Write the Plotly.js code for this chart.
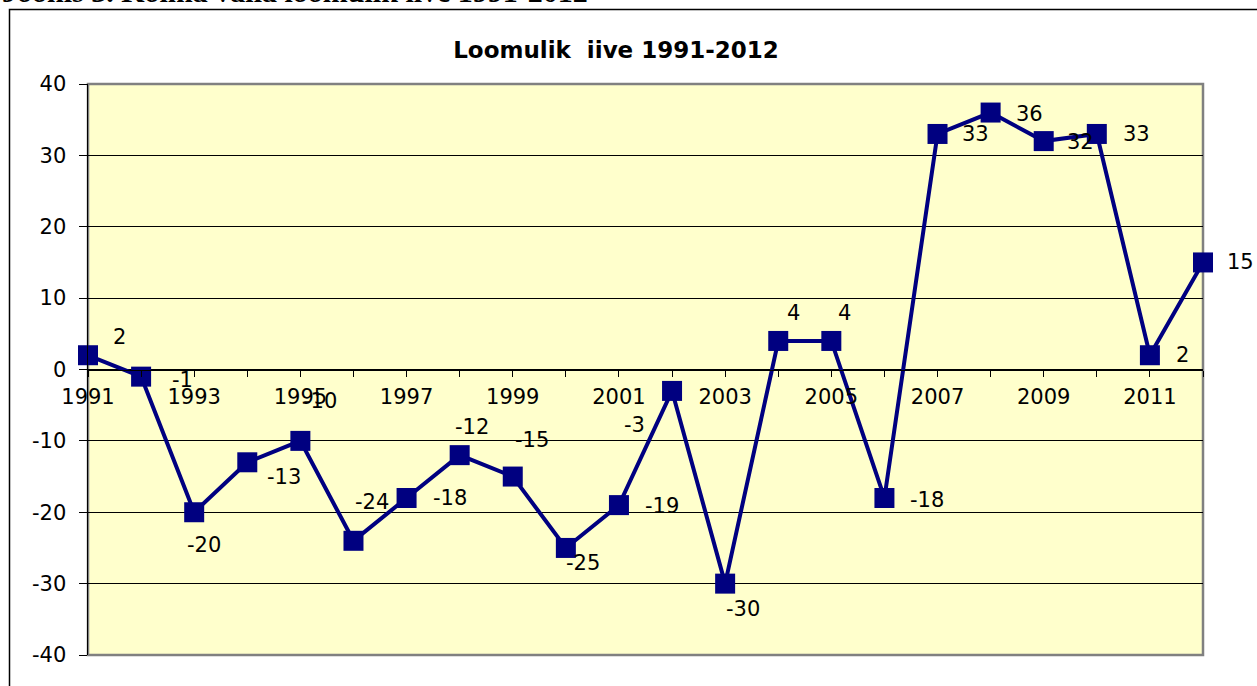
<!DOCTYPE html>
<html>
<head>
<meta charset="utf-8">
<script src="https://cdn.plot.ly/plotly-3.0.1.min.js"></script>
<style>html,body{margin:0;padding:0;background:#fff;}#chart{width:1257px;height:686px;}</style>
</head>
<body>
<div id="chart"></div>
<script>
// Data
const years = [1991,1992,1993,1994,1995,1996,1997,1998,1999,2000,2001,2002,2003,2004,2005,2006,2007,2008,2009,2010,2011,2012];
const values = [2,-1,-20,-13,-10,-24,-18,-12,-15,-25,-19,-3,-30,4,4,-18,33,36,32,33,2,15];
const xTickLabels = ['1991','','1993','','1995','','1997','','1999','','2001','','2003','','2005','','2007','','2009','','2011',''];
const yTickValues = [-40,-30,-20,-10,0,10,20,30,40];
const yTickLabels = ['-40','-30','-20','-10','0','10','20','30','40'];
const chartTitle = 'Loomulik\u00a0\u00a0iive 1991-2012';
const figureCaption = 'Joonis 3. Koima valla loomulik iive 1991-2012';

// Label placement offsets (pixels, dx right, dy down) - styling only
const labelDx = [31,41,10,37,20,19,43,12,19,17,43,-38,18,15,13,43,38,39,37,40,33,37];
const labelDy = [-18,3,33,15,-40,-39,0,-28,-37,15,1,34,25,-28,-28,2,0,1,1,0,0,0];

const numFont = {family: 'DejaVu Sans', size: 21, color: '#000'};

const labels = years.map((yr, i) => ({
  x: yr, y: values[i], xref: 'x', yref: 'y',
  text: String(values[i]), showarrow: false,
  xshift: labelDx[i], yshift: -labelDy[i],
  font: numFont
}));

labels.push({
  xref: 'paper', yref: 'paper', x: -88/1115, y: (655-10.5)/571,
  xanchor: 'left', yanchor: 'bottom', showarrow: false,
  text: '<b>' + figureCaption + '</b>',
  font: {family: 'Liberation Serif', size: 30, color: '#000'}
});

const trace = {
  x: years, y: values, type: 'scatter', mode: 'lines+markers',
  line: {color: '#000080', width: 4},
  marker: {symbol: 'square', size: 20, color: '#000080'},
  cliponaxis: false, hoverinfo: 'skip'
};

const layout = {
  width: 1257, height: 686,
  margin: {l: 88, r: 54, t: 84, b: 31, pad: 0},
  paper_bgcolor: '#ffffff', plot_bgcolor: '#FFFFCC',
  showlegend: false,
  title: {
    text: chartTitle, xref: 'paper', x: (616-88)/1115, xanchor: 'center',
    yref: 'container', y: 1 - 50/686, yanchor: 'middle',
    font: {family: 'DejaVu Sans', size: 23, weight: 'bold', color: '#000'}
  },
  xaxis: {
    range: [1991, 2012], tickvals: years, ticktext: xTickLabels,
    ticks: 'outside', ticklen: 6, tickwidth: 1, tickcolor: '#000',
    showgrid: false, zeroline: false, showline: true, linecolor: '#000', linewidth: 1.5,
    anchor: 'free', position: 0.5, tickfont: numFont, ticklabelstandoff: 2, fixedrange: true
  },
  yaxis: {
    range: [-40, 40], tickvals: yTickValues, ticktext: yTickLabels,
    ticks: 'outside', ticklen: 8, tickwidth: 1, tickcolor: '#000',
    showgrid: true, gridcolor: '#000', gridwidth: 1, zeroline: false,
    showline: true, linecolor: '#000', linewidth: 1.5,
    tickfont: numFont, ticklabelstandoff: 8, fixedrange: true
  },
  shapes: [
    {type: 'rect', xref: 'paper', yref: 'paper', x0: 0, x1: 1, y0: 0, y1: 1,
     line: {color: '#808080', width: 2.5}, layer: 'below'},
    {type: 'rect', xref: 'paper', yref: 'paper', x0: (9.5-88)/1115, x1: 1.2, y0: -0.2, y1: (655-9.5)/571,
     line: {color: '#000', width: 1.5}, layer: 'below'}
  ],
  annotations: labels
};

Plotly.newPlot('chart', [trace], layout, {displayModeBar: false, staticPlot: true});
</script>
</body>
</html>
